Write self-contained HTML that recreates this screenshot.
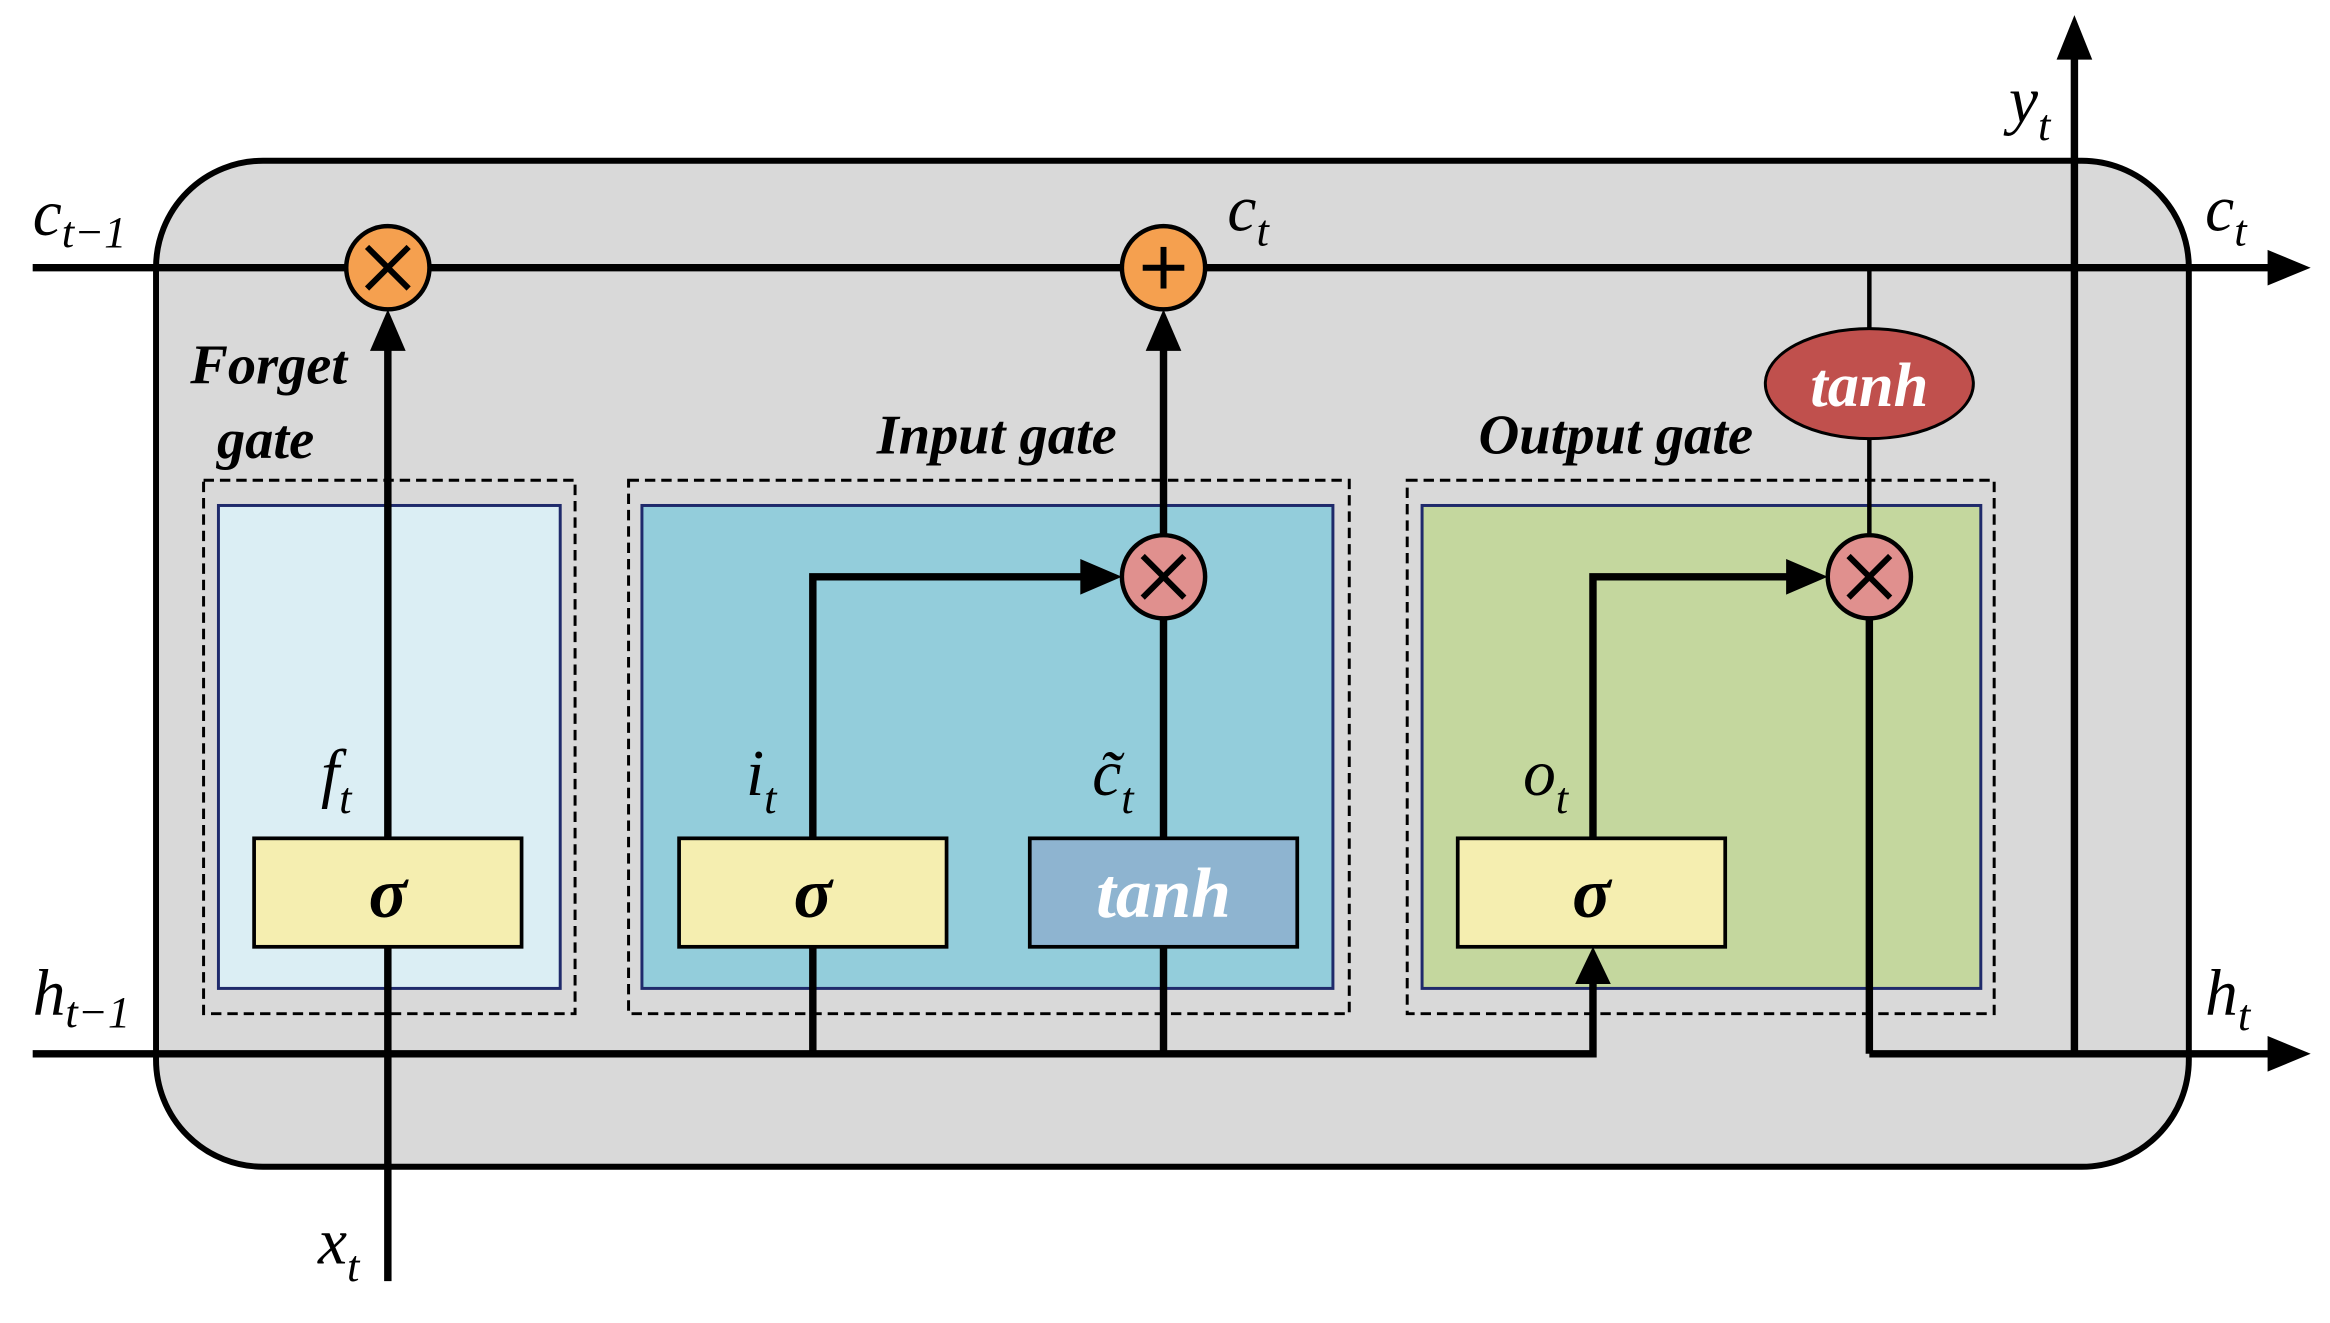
<!DOCTYPE html>
<html><head><meta charset="utf-8"><style>html,body{margin:0;padding:0;background:#fff}svg{display:block}</style></head>
<body>
<svg width="2330" height="1323" viewBox="0 0 1568 890" xmlns="http://www.w3.org/2000/svg" font-family="'Liberation Serif', serif">
<rect x="105" y="108" width="1368" height="677" rx="72" fill="#d9d9d9" stroke="#000" stroke-width="4"/>
<rect x="137" y="323" width="250" height="359" fill="none" stroke="#000" stroke-width="2" stroke-dasharray="7,4"/>
<rect x="147" y="340" width="230" height="325" fill="#dbeef4" stroke="#1f2a6b" stroke-width="2"/>
<rect x="423" y="323" width="485" height="359" fill="none" stroke="#000" stroke-width="2" stroke-dasharray="7,4"/>
<rect x="432" y="340" width="465" height="325" fill="#93cddb" stroke="#1f2a6b" stroke-width="2"/>
<rect x="947" y="323" width="395" height="359" fill="none" stroke="#000" stroke-width="2" stroke-dasharray="7,4"/>
<rect x="957" y="340" width="376" height="325" fill="#c4d79e" stroke="#1f2a6b" stroke-width="2"/>
<g stroke="#000" stroke-width="5" fill="none">
<line x1="22" y1="180" x2="1528" y2="180"/>
<polyline points="22,709 1072,709 1072,660"/>
<line x1="1258" y1="709" x2="1528" y2="709"/>
<line x1="261" y1="862" x2="261" y2="232"/>
<line x1="547" y1="709" x2="547" y2="637"/>
<polyline points="547,564 547,388 730,388"/>
<line x1="783" y1="709" x2="783" y2="637"/>
<line x1="783" y1="564" x2="783" y2="416"/>
<line x1="783" y1="360" x2="783" y2="232"/>
<polyline points="1072,564 1072,388 1205,388"/>
<line x1="1258" y1="416" x2="1258" y2="709"/>
<line x1="1396" y1="709" x2="1396" y2="36"/>
</g>
<g stroke="#000" stroke-width="3">
<line x1="1258" y1="180" x2="1258" y2="222"/>
<line x1="1258" y1="295" x2="1258" y2="360"/>
</g>
<g fill="#000">
<polygon points="1555,180 1526,168 1526,192"/>
<polygon points="1555,709 1526,697 1526,721"/>
<polygon points="1396,10 1384,40 1408,40"/>
<polygon points="261,208 249,236 273,236"/>
<polygon points="783,208 771,236 795,236"/>
<polygon points="755,388 727,376 727,400"/>
<polygon points="1230,388 1202,376 1202,400"/>
<polygon points="1072,637 1060,662 1084,662"/>
</g>
<g stroke="#000" stroke-width="3">
<circle cx="261" cy="180" r="28" fill="#f5a04f"/>
<circle cx="783" cy="180" r="28" fill="#f5a04f"/>
<circle cx="783" cy="388" r="28" fill="#e0908e"/>
<circle cx="1258" cy="388" r="28" fill="#e0908e"/>
</g>
<g stroke="#000" stroke-width="4">
<line x1="247" y1="166" x2="275" y2="194"/><line x1="275" y1="166" x2="247" y2="194"/>
<line x1="769" y1="180" x2="797" y2="180"/><line x1="783" y1="166" x2="783" y2="194"/>
<line x1="769" y1="374" x2="797" y2="402"/><line x1="797" y1="374" x2="769" y2="402"/>
<line x1="1244" y1="374" x2="1272" y2="402"/><line x1="1272" y1="374" x2="1244" y2="402"/>
</g>
<ellipse cx="1258" cy="258" rx="70" ry="37" fill="#c0504d" stroke="#000" stroke-width="2"/>
<text x="1258" y="273" font-size="42" font-style="italic" font-weight="bold" fill="#fff" text-anchor="middle">tanh</text>
<g stroke="#000" stroke-width="2.5">
<rect x="171" y="564" width="180" height="73" fill="#f5eeb0"/>
<rect x="457" y="564" width="180" height="73" fill="#f5eeb0"/>
<rect x="693" y="564" width="180" height="73" fill="#8eb4d0"/>
<rect x="981" y="564" width="180" height="73" fill="#f5eeb0"/>
</g>
<g font-size="48" font-style="italic" font-weight="bold" text-anchor="middle">
<text x="261" y="617">σ</text><text x="547" y="617">σ</text><text x="1071" y="617">σ</text>
<text x="783" y="617" fill="#fff">tanh</text>
</g>
<g font-size="38" font-style="italic" font-weight="bold">
<text x="128" y="258">Forget</text><text x="146" y="308">gate</text>
<text x="590" y="305">Input gate</text>
<text x="995" y="305">Output gate</text>
</g>
<g font-size="44" font-style="italic">
<text x="22" y="158">c<tspan font-size="30" dy="8">t−1</tspan></text>
<text x="826" y="155">c<tspan font-size="30" dy="10">t</tspan></text>
<text x="1484" y="155">c<tspan font-size="30" dy="10">t</tspan></text>
<text x="1352" y="82">y<tspan font-size="30" dy="12">t</tspan></text>
<text x="22" y="683">h<tspan font-size="30" dy="8">t−1</tspan></text>
<text x="1484" y="683">h<tspan font-size="30" dy="10">t</tspan></text>
<text x="214" y="850">x<tspan font-size="30" dy="12">t</tspan></text>
<text x="216" y="535">f<tspan font-size="30" dy="12">t</tspan></text>
<text x="502" y="535">i<tspan font-size="30" dy="12">t</tspan></text>
<text x="735" y="535">c̃<tspan font-size="30" dy="12">t</tspan></text>
<text x="1025" y="535">o<tspan font-size="30" dy="12">t</tspan></text>
</g>
</svg>
</body></html>
